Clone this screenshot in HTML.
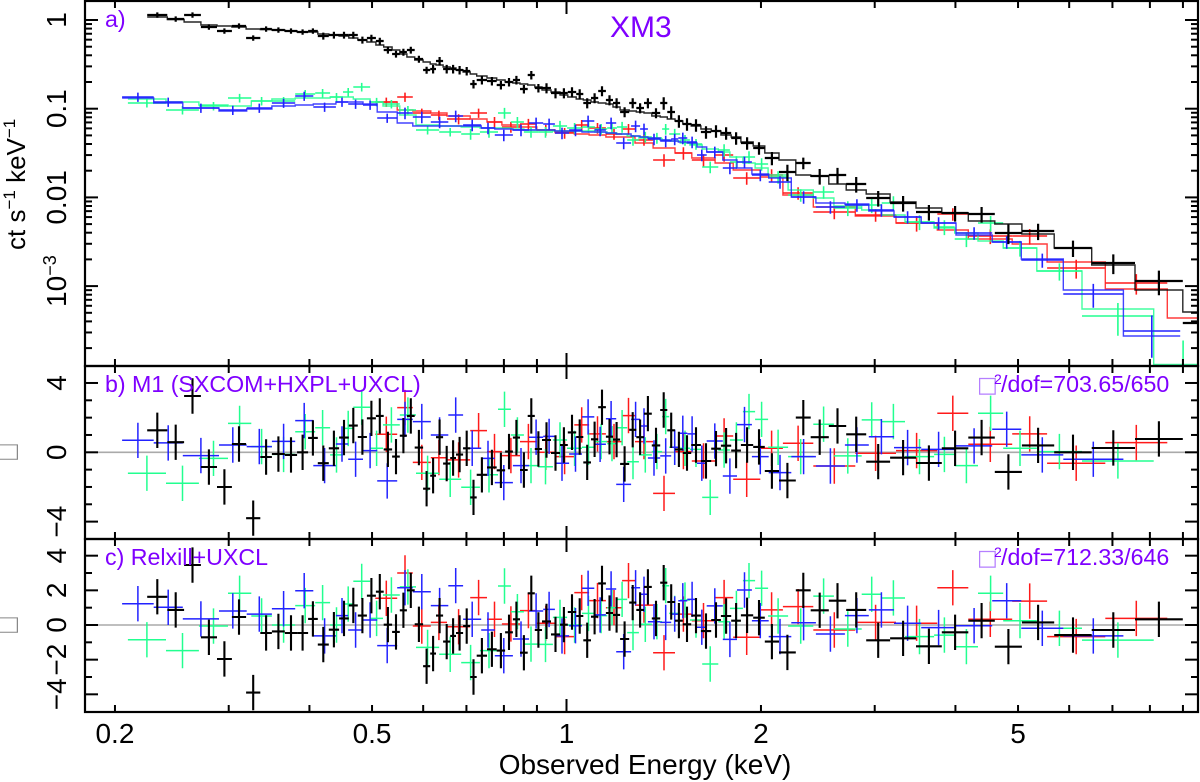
<!DOCTYPE html>
<html lang="en">
<head>
<meta charset="utf-8">
<title>XM3 spectrum</title>
<style>
html,body{margin:0;padding:0;background:#fff}
svg{display:block}
text{font-family:"Liberation Sans",sans-serif}
.lab{fill:#7f00ff;font-size:23.2px}
.tick{fill:#000;font-size:28px}
</style>
</head>
<body>
<svg id="chart" xmlns="http://www.w3.org/2000/svg" width="1200" height="782" viewBox="0 0 1200 782">
<defs>
<clipPath id="clipA"><rect x="85" y="1" width="1113" height="365"/></clipPath>
<clipPath id="clipB"><rect x="85" y="366" width="1113" height="173"/></clipPath>
<clipPath id="clipC"><rect x="85" y="539" width="1113" height="173"/></clipPath>
</defs>
<line x1="85" x2="1198" y1="452.3" y2="452.3" stroke="#aaa" stroke-width="1.6"/>
<line x1="85" x2="1198" y1="625" y2="625" stroke="#aaa" stroke-width="1.6"/>
<g id="marks"></g>
<g id="axes"></g>
<rect x="85" y="1" width="1113" height="365" fill="none" stroke="#000" stroke-width="2.2"/>
<rect x="85" y="366" width="1113" height="173" fill="none" stroke="#000" stroke-width="2.2"/>
<rect x="85" y="539" width="1113" height="173" fill="none" stroke="#000" stroke-width="2.2"/>
<text class="lab" x="105" y="27">a)</text>
<text x="610" y="37" fill="#7f00ff" font-size="30">XM3</text>
<text class="lab" x="105" y="392">b) M1 (SXCOM+HXPL+UXCL)</text>
<text class="lab" x="105" y="565">c) Relxill+UXCL</text>
<text class="lab" y="392"><tspan x="977" fill="#b57fff" font-family="DejaVu Sans" font-size="22">□</tspan><tspan x="994" font-size="14" y="384">2</tspan><tspan x="1001" y="392">/dof=703.65/650</tspan></text>
<text class="lab" y="565"><tspan x="977" fill="#b57fff" font-family="DejaVu Sans" font-size="22">□</tspan><tspan x="994" font-size="14" y="557">2</tspan><tspan x="1001" y="565">/dof=712.33/646</tspan></text>
<text transform="translate(25,250) rotate(-90)" font-size="26" fill="#000">ct s<tspan font-size="17" dy="-10">−1</tspan><tspan dy="10"> keV</tspan><tspan font-size="17" dy="-10">−1</tspan></text>
<text transform="translate(18,452) rotate(-90) scale(1,1.3)" font-size="25.5" font-family="DejaVu Sans" fill="#888" text-anchor="middle">□</text>
<text transform="translate(18,625) rotate(-90) scale(1,1.3)" font-size="25.5" font-family="DejaVu Sans" fill="#888" text-anchor="middle">□</text>
<text x="645" y="774" font-size="28" fill="#000" text-anchor="middle">Observed Energy (keV)</text>
</svg>
<script>
// Energies and rates are stored as log10(keV) and log10(ct/s/keV).
const xTickValues = [0.2,0.3,0.4,0.5,0.6,0.7,0.8,0.9,1,2,3,4,5,6,7,8,9];
const xMajorTicks = [1];
const xTickLabelValues = [0.2,0.5,1,2,5];
const xTickLabels = ["0.2","0.5","1","2","5"];
const rateDecades = [0,-1,-2,-3];
const rateMinorMultipliers = [2,3,4,5,6,7,8,9];
const rateTickLabels = ["1","0.1","0.01","10"];
const rateTickSups = ["","","","−3"];
const residualBTicks = [4,3,2,1,0,-1,-2,-3,-4];
const residualBMajor = [4,0,-4];
const residualBLabels = ["4","0","−4"];
const residualCTicks = [4,3,2,1,0,-1,-2,-3,-4];
const residualCMajor = [4,2,0,-2,-4];
const residualCLabels = ["4","2","0","−2","−4"];
const residualSigma = 1.02;

const blackEdges = [-.649,-.618,-.592,-.566,-.541,-.518,-.496,-.474,-.456,-.436,-.417,-.400,-.385,-.368,-.352,-.337,-.323,-.309,-.295,-.283,-.270,-.258,-.247,-.235,-.222,-.211,-.202,-.191,-.180,-.171,-.160,-.149,-.139,-.123,-.108,-.095,-.083,-.072,-.060,-.049,-.038,-.024,-.010,.002,.015,.026,.038,.049,.061,.072,.083,.097,.108,.120,.132,.145,.156,.168,.180,.193,.208,.224,.239,.255,.270,.289,.307,.329,.355,.378,.406,.433,.464,.501,.541,.581,.622,.663,.705,.755,.813,.880,.954,1.05];
const blackRate = [.056,.011,.056,-.079,-.124,-.068,-.203,-.101,-.113,-.124,-.135,-.124,-.180,-.169,-.169,-.169,-.225,-.203,-.237,-.338,-.383,-.361,-.338,-.440,-.564,-.552,-.462,-.552,-.552,-.564,-.575,-.722,-.676,-.688,-.733,-.699,-.676,-.778,-.620,-.767,-.767,-.823,-.823,-.812,-.834,-.936,-.879,-.800,-.902,-.936,-1.037,-.936,-.992,-.936,-1.048,-.936,-1.037,-1.139,-1.172,-1.184,-1.263,-1.251,-1.274,-1.330,-1.387,-1.443,-1.556,-1.714,-1.612,-1.759,-1.747,-1.849,-2.007,-2.063,-2.165,-2.176,-2.187,-2.401,-2.379,-2.570,-2.740,-2.943,-3.416];
const blackModel = [.034,.006,-.023,-.056,-.068,-.079,-.101,-.107,-.113,-.124,-.135,-.135,-.158,-.169,-.180,-.203,-.225,-.248,-.282,-.304,-.338,-.383,-.417,-.451,-.473,-.496,-.507,-.530,-.541,-.564,-.586,-.609,-.631,-.654,-.676,-.699,-.710,-.722,-.733,-.755,-.789,-.812,-.846,-.868,-.891,-.902,-.924,-.936,-.947,-.981,-1.015,-1.026,-1.037,-1.048,-1.082,-1.094,-1.116,-1.139,-1.172,-1.195,-1.229,-1.251,-1.297,-1.319,-1.375,-1.421,-1.499,-1.578,-1.747,-1.759,-1.849,-1.917,-1.962,-2.052,-2.119,-2.176,-2.266,-2.300,-2.413,-2.570,-2.762,-3.044,-3.292];
const blackFracErr = [.07,.07,.07,.07,.07,.07,.07,.07,.07,.07,.07,.07,.09,.09,.09,.09,.09,.09,.09,.09,.09,.09,.09,.09,.09,.11,.11,.11,.11,.11,.11,.11,.11,.11,.11,.11,.11,.11,.11,.11,.13,.13,.13,.13,.13,.13,.13,.13,.13,.13,.13,.13,.13,.13,.13,.16,.16,.16,.16,.16,.16,.16,.16,.16,.16,.16,.17,.21,.15,.2,.2,.2,.2,.2,.2,.2,.2,.25,.21,.21,.25,.31,.3];
const blackChiB = [1.27,.58,3.25,-.85,-2.0,.48,-3.8,-.27,-.1,-.15,0,.83,-.63,.23,.85,1.54,.88,1.96,2.1,.17,-.25,.96,2.1,.27,-2.1,-1.35,.87,-.65,-.33,-.13,.23,-2.6,-1.3,-.87,-1.04,.04,.85,-1.02,2.1,.19,.71,-.04,.42,1.15,.88,-.58,.75,2.6,.9,.73,-.67,1.3,.87,2.23,.4,2.44,1.27,.17,-.04,.42,-.5,.21,.38,.1,.42,.31,-1.08,-1.63,2.0,.87,1.52,1.04,-.54,-.31,-.62,.23,.85,-1.13,.4,0,.25,.77];
const blackChiC = [1.63,.87,3.46,-.71,-1.96,.46,-3.9,-.46,-.37,-.46,-.46,.35,-1.13,-.27,.38,1.13,.54,1.69,1.92,.02,-.4,.85,2.0,.04,-2.38,-1.65,.54,-.96,-.63,-.46,-.06,-3.0,-1.77,-1.4,-1.48,-.42,.33,-1.6,1.83,-.29,.21,-.54,.02,.75,.52,-.88,.48,2.4,.69,.58,-.81,1.29,.87,2.2,.38,2.44,1.33,.25,.04,.54,-.35,.29,.52,.25,.56,.42,-.96,-1.58,2.0,.85,1.4,.87,-.88,-.77,-1.23,-.42,.25,-1.25,.15,-.58,-.29,.33];

const redEdges = [-.296,-.262,-.238,-.210,-.185,-.149,-.123,-.100,-.072,-.046,-.018,.012,.035,.061,.086,.106,.134,.168,.194,.230,.258,.300,.335,.382,.447,.510,.574,.622,.690,.744,.834,.930,.977];
const redRate = [-.924,-.868,-1.048,-1.071,-1.116,-1.048,-1.150,-1.206,-1.172,-1.240,-1.274,-1.184,-1.218,-1.285,-1.229,-1.353,-1.578,-1.499,-1.578,-1.522,-1.781,-1.747,-1.950,-2.165,-2.198,-2.289,-2.187,-2.435,-2.435,-2.796,-2.965];
const redModel = [-.924,-1.015,-1.026,-1.048,-1.082,-1.116,-1.150,-1.184,-1.206,-1.240,-1.263,-1.285,-1.297,-1.319,-1.319,-1.387,-1.443,-1.499,-1.556,-1.612,-1.691,-1.770,-1.973,-2.108,-2.210,-2.289,-2.368,-2.469,-2.525,-2.728,-3.033,-3.360];
const redFracErr = [.12,.12,.12,.12,.13,.12,.14,.14,.14,.14,.14,.14,.14,.14,.14,.14,.16,.16,.16,.16,.16,.16,.16,.17,.16,.2,.16,.19,.2,.24,.26];
const redChiB = [1.04,2.58,-.58,-.31,-.44,1.25,.04,-.19,.62,0,-.25,1.58,1.06,.62,2.12,.62,-2.37,.04,-.5,.94,-1.56,.23,.52,-.79,-.06,.1,2.25,.46,1.06,-.63,.56];
const redChiC = [1.54,3.0,-.06,.15,-.1,1.58,.33,.06,.83,.1,-.67,1.87,1.41,1.0,2.56,1.15,-1.6,.63,.25,1.58,-.71,.87,1.06,-.29,.15,.1,2.15,.33,1.38,-.67,.38];

const greenEdges = [-.679,-.620,-.569,-.524,-.488,-.456,-.420,-.389,-.366,-.346,-.330,-.304,-.284,-.258,-.233,-.197,-.163,-.134,-.106,-.086,-.066,-.044,-.021,.001,.024,.044,.063,.078,.094,.112,.132,.148,.159,.176,.191,.210,.235,.253,.273,.292,.312,.343,.382,.414,.457,.488,.524,.569,.601,.637,.676,.728,.798,.909,1.0];
const greenRate = [-.936,-1.015,-.970,-.879,-.913,-.913,-.834,-.823,-.868,-.812,-.755,-.924,-.947,-1.015,-1.240,-1.263,-1.285,-1.263,-1.048,-1.150,-1.263,-1.263,-1.195,-1.218,-1.206,-1.229,-1.218,-1.206,-1.353,-1.319,-1.330,-1.229,-1.285,-1.353,-1.398,-1.657,-1.466,-1.601,-1.545,-1.623,-1.770,-1.973,-1.939,-2.119,-2.086,-2.063,-2.277,-2.334,-2.469,-2.289,-2.570,-2.830,-3.337,-4.06];
const greenModel = [-.891,-.924,-.958,-.970,-.913,-.891,-.879,-.879,-.868,-.868,-.891,-.924,-.970,-1.071,-1.184,-1.195,-1.206,-1.218,-1.218,-1.229,-1.240,-1.240,-1.251,-1.251,-1.251,-1.263,-1.274,-1.285,-1.308,-1.330,-1.342,-1.353,-1.364,-1.387,-1.409,-1.454,-1.488,-1.545,-1.612,-1.669,-1.747,-1.917,-2.007,-2.097,-2.142,-2.198,-2.277,-2.345,-2.401,-2.492,-2.570,-2.830,-3.258,-4.2];
const greenFracErr = [.11,.11,.11,.11,.11,.11,.11,.11,.11,.11,.11,.11,.11,.11,.11,.11,.14,.14,.14,.14,.14,.14,.14,.14,.14,.14,.14,.14,.14,.14,.14,.14,.14,.14,.14,.15,.16,.16,.16,.16,.16,.16,.16,.19,.19,.19,.19,.19,.19,.2,.2,.22,.4,1.8];
const greenChiB = [-1.21,-1.79,-.35,1.67,.33,-.12,1.19,1.42,-.15,1.38,2.6,.23,1.58,2.15,-1.21,-1.56,-2.02,-1.3,2.48,1.0,-.77,-.83,.71,.23,.29,.62,.5,1.42,-.54,-.15,.04,2.06,.29,.23,.17,-2.6,.13,.71,2.35,1.9,.29,-.25,1.62,-.21,1.87,1.77,-.25,-.12,-.77,2.25,.23,.04,-.5];
const greenChiC = [-.85,-1.48,-.06,1.83,.52,0,1.12,1.29,0,1.21,2.52,.38,1.73,2.2,-1.29,-1.69,-2.17,-1.48,2.25,.77,-1.1,-1.12,.44,0,.67,.54,1.0,1.48,-.44,.04,.19,2.27,.67,1.44,.29,-2.25,.19,.96,2.56,2.12,.52,-.06,1.67,-.23,1.77,1.56,-.67,-.58,-1.25,1.83,.25,-.19,-.87];

const blueEdges = [-.688,-.639,-.594,-.538,-.495,-.456,-.420,-.392,-.357,-.338,-.315,-.293,-.262,-.238,-.210,-.183,-.160,-.132,-.111,-.083,-.058,-.036,-.018,.004,.024,.043,.061,.077,.100,.114,.126,.145,.162,.173,.187,.202,.217,.242,.264,.287,.313,.348,.386,.431,.468,.507,.549,.603,.659,.704,.769,.862,.950];
const blueRate = [-.868,-.924,-.992,-1.015,-.992,-.936,-.857,-.981,-.924,-.947,-.958,-1.105,-1.048,-1.094,-1.150,-1.082,-1.184,-1.218,-1.297,-1.240,-1.161,-1.172,-1.274,-1.240,-1.139,-1.240,-1.161,-1.387,-1.195,-1.229,-1.342,-1.364,-1.342,-1.330,-1.375,-1.522,-1.488,-1.669,-1.601,-1.747,-1.826,-1.995,-2.108,-2.086,-2.142,-2.221,-2.289,-2.401,-2.503,-2.706,-3.089,-3.506];
const blueModel = [-.879,-.936,-.992,-1.026,-1.003,-.970,-.958,-.947,-.924,-.924,-.947,-1.037,-1.161,-1.195,-1.195,-1.195,-1.195,-1.218,-1.229,-1.240,-1.240,-1.240,-1.251,-1.251,-1.263,-1.263,-1.274,-1.285,-1.308,-1.319,-1.330,-1.353,-1.364,-1.375,-1.387,-1.432,-1.488,-1.578,-1.669,-1.736,-1.781,-1.995,-2.063,-2.074,-2.153,-2.221,-2.289,-2.424,-2.503,-2.694,-3.044,-3.563];
const blueFracErr = [.12,.12,.12,.12,.12,.12,.12,.12,.12,.12,.12,.12,.15,.15,.15,.15,.15,.15,.15,.15,.15,.15,.15,.15,.15,.15,.15,.15,.15,.15,.15,.15,.15,.15,.15,.15,.15,.15,.15,.15,.16,.16,.16,.16,.16,.16,.16,.16,.16,.18,.3,.5];
const blueChiB = [.69,.54,-.19,.42,.33,.63,1.83,-.77,.48,-.4,.1,-1.65,1.9,1.77,1.0,2.15,.23,-.35,-1.75,-.77,.87,.92,-.63,-.1,2.04,.46,1.94,-1.85,1.9,1.52,-.33,-.21,.29,1.1,1.06,-.63,.65,-1.37,1.6,-.25,-1.17,-.25,-.79,.42,.9,.27,.17,.37,1.33,-.15,-.4,null];
const blueChiC = [1.23,1.02,.35,.81,.63,.94,1.98,-.63,.54,-.29,.29,-1.19,2.15,1.92,1.12,2.27,.33,-.29,-1.77,-.81,.81,.9,-.63,-.04,2.12,.58,2.08,-1.54,2.15,1.77,.19,.15,.63,1.4,1.48,-.13,1.1,-.83,2.02,.25,-.67,.13,-.52,.54,.87,.1,-.15,-.04,1.4,-.19,-.63,null];

const seriesOrder = [
  {id:"red", color:"#ff1a1a", edges:redEdges, rate:redRate, model:redModel, frac:redFracErr, chiB:redChiB, chiC:redChiC, w:1.6},
  {id:"green", color:"#22ff90", edges:greenEdges, rate:greenRate, model:greenModel, frac:greenFracErr, chiB:greenChiB, chiC:greenChiC, w:1.6},
  {id:"blue", color:"#2222ff", edges:blueEdges, rate:blueRate, model:blueModel, frac:blueFracErr, chiB:blueChiB, chiC:blueChiC, w:1.6},
  {id:"black", color:"#000000", edges:blackEdges, rate:blackRate, model:blackModel, frac:blackFracErr, chiB:blackChiB, chiC:blackChiC, w:2.2}
];

const SVGNS = "http://www.w3.org/2000/svg";
const panelATop = 1, panelABottom = 366, panelBBottom = 539, panelCBottom = 712, frameL = 85, frameR = 1198;
function xScale(logE){ return 566.5 + logE * 646; }
function yRate(logR){ return 20 - logR * 88.7; }
function yB(v){ return 452.3 - v * 17.33; }
function yC(v){ return 625 - v * 17.33; }
function make(tag, parent, attrs){
  const el = document.createElementNS(SVGNS, tag);
  for (const k in attrs) el.setAttribute(k, attrs[k]);
  parent.appendChild(el);
  return el;
}
const marks = document.getElementById("marks");
const axes = document.getElementById("axes");

function drawModel(s, g){
  let d = "";
  for (let i = 0; i < s.model.length; i++){
    const y = Math.min(yRate(s.model[i]), panelABottom - 1.6);
    const x0 = xScale(s.edges[i]), x1 = xScale(s.edges[i+1]);
    d += (i === 0 ? "M" + x0.toFixed(1) + " " + y.toFixed(1) : "V" + y.toFixed(1)) + "H" + x1.toFixed(1);
  }
  const p = make("path", g, {d:d, fill:"none", stroke:s.color, "stroke-width":1.4, "stroke-opacity":0.85});
  
  
}
function drawRatePoints(s, g){
  for (let i = 0; i < s.rate.length; i++){
    const lo = s.edges[i], hi = s.edges[i+1], c = (lo + hi) / 2;
    const r = Math.pow(10, s.rate[i]);
    const top = yRate(Math.log10(r * (1 + s.frac[i])));
    const low = 1 - s.frac[i];
    const bot = low > 0 ? yRate(Math.log10(r * low)) : panelABottom + 20;
    const y = yRate(s.rate[i]);
    const d = "M" + xScale(lo).toFixed(1) + " " + y.toFixed(1) + "H" + xScale(hi).toFixed(1) +
              "M" + xScale(c).toFixed(1) + " " + top.toFixed(1) + "V" + bot.toFixed(1);
    const p = make("path", g, {d:d, fill:"none", stroke:s.color, "stroke-width":s.w});
    
    
  }
}
function drawResidualPoints(s, g, values, yFn, label){
  for (let i = 0; i < values.length; i++){
    if (values[i] == null) continue;
    const lo = s.edges[i], hi = s.edges[i+1], c = (lo + hi) / 2;
    const y = yFn(values[i]);
    const d = "M" + xScale(lo).toFixed(1) + " " + y.toFixed(1) + "H" + xScale(hi).toFixed(1) +
              "M" + xScale(c).toFixed(1) + " " + yFn(values[i] + residualSigma).toFixed(1) + "V" + yFn(values[i] - residualSigma).toFixed(1);
    const p = make("path", g, {d:d, fill:"none", stroke:s.color, "stroke-width":s.w === 2.2 ? 2.1 : 1.5});
    
    
  }
}
const gA = make("g", marks, {"clip-path":"url(#clipA)"});


const gB = make("g", marks, {"clip-path":"url(#clipB)"});


const gC = make("g", marks, {"clip-path":"url(#clipC)"});


for (const s of seriesOrder){
  drawModel(s, gA);
  drawRatePoints(s, gA);
  drawResidualPoints(s, gB, s.chiB, yB, "b");
  drawResidualPoints(s, gC, s.chiC, yC, "c");
}

function tick(x1, y1, x2, y2, name){
  const t = make("line", axes, {x1:x1, y1:y1, x2:x2, y2:y2, stroke:"#000", "stroke-width":2});
  
  
}
const frames = [[panelATop, panelABottom], [panelABottom, panelBBottom], [panelBBottom, panelCBottom]];
for (const v of xTickValues){
  const x = xScale(Math.log10(v));
  const len = xMajorTicks.includes(v) ? 13 : 7;
  for (const f of frames){
    tick(x, f[0], x, f[0] + len, "x-tick-top");
    tick(x, f[1], x, f[1] - len, "x-tick-bottom");
  }
}
xTickLabelValues.forEach(function(v, i){
  const t = make("text", axes, {x:xScale(Math.log10(v)), y:743, "text-anchor":"middle", class:"tick"});
  t.textContent = xTickLabels[i];
  
  
});
function yTickPair(y, len, name){
  tick(frameL, y, frameL + len, y, name);
  tick(frameR, y, frameR - len, y, name);
}
rateDecades.forEach(function(d, i){
  yTickPair(yRate(d), 13, "rate-major-tick");
  const t = make("text", axes, {transform:"translate(66," + (yRate(d) - (rateTickSups[i] ? 5 : 0)) + ") rotate(-90)", "text-anchor":"middle", class:"tick"});
  t.textContent = rateTickLabels[i];
  
  
  if (rateTickSups[i]){
    const sup = make("tspan", t, {"font-size":"18", dy:"-10"});
    sup.textContent = rateTickSups[i];
  }
});
for (const d of [-4].concat(rateDecades)){
  for (const m of rateMinorMultipliers){
    const y = yRate(d + Math.log10(m));
    if (y > panelATop && y < panelABottom) yTickPair(y, 7, "rate-minor-tick");
  }
}
residualBTicks.forEach(function(v){
  yTickPair(yB(v), residualBMajor.includes(v) ? 13 : 7, "residual-b-tick");
});
residualBMajor.forEach(function(v, i){
  const t = make("text", axes, {transform:"translate(66," + yB(v) + ") rotate(-90)", "text-anchor":"middle", class:"tick"});
  t.textContent = residualBLabels[i];
  
  
});
residualCTicks.forEach(function(v){
  yTickPair(yC(v), residualCMajor.includes(v) ? 13 : 7, "residual-c-tick");
});
residualCMajor.forEach(function(v, i){
  const t = make("text", axes, {transform:"translate(66," + yC(v) + ") rotate(-90)", "text-anchor":"middle", class:"tick"});
  t.textContent = residualCLabels[i];
  
  
});
</script>
</body>
</html>
